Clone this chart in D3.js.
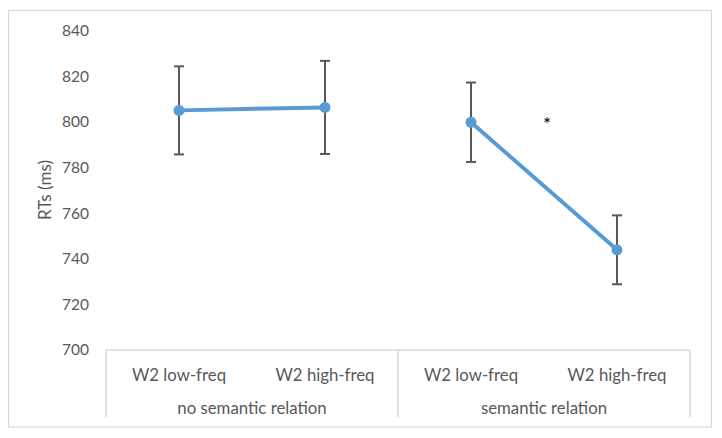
<!DOCTYPE html>
<html><head><meta charset="utf-8">
<script src="https://cdn.jsdelivr.net/npm/d3@7"></script>
<style>body{margin:0;background:#fff}svg text{font-family:Lato,"Open Sans",sans-serif}</style>
</head><body><svg id="c" width="722" height="438"></svg>
<script>
const categories = ["W2 low-freq","W2 high-freq","W2 low-freq","W2 high-freq"];
const groups = ["no semantic relation","semantic relation"];
const means = [805, 806.3, 799.8, 743.9];
const errors = [19.3, 20.4, 17.4, 15.1];
const yTicks = [700,720,740,760,780,800,820,840];
const yTitle = "RTs (ms)";
const annotation = {text:"*", index:3.02, value:801};

const svg = d3.select("#c");
const L=106, R=690, T=30.5, B=350;
svg.append("rect").attr("x",8.5).attr("y",10.5).attr("width",703).attr("height",416.5)
  .attr("fill","#fff").attr("stroke","#d9d9d9").attr("stroke-width",1.2);

const x = d3.scaleBand().domain(d3.range(categories.length)).range([L,R]);
const y = d3.scaleLinear().domain([700,840]).range([B,T]);

// y axis labels
const ya = svg.append("g").attr("transform",`translate(${L},0)`)
  .call(d3.axisLeft(y).tickValues(yTicks).tickSize(0).tickPadding(17));
ya.select(".domain").remove();
ya.selectAll("text").attr("font-size",15.5).attr("fill","#595959").attr("font-family","Lato,'Open Sans',sans-serif");

svg.append("text").attr("transform","translate(51,190) rotate(-90)").attr("text-anchor","middle")
  .attr("font-size",17).attr("fill","#595959").text(yTitle);

// category box
const gc = "#d9d9d9";
svg.append("line").attr("x1",L).attr("x2",R).attr("y1",B).attr("y2",B).attr("stroke",gc).attr("stroke-width",1.5);
[0,2,4].forEach(i=>{
  const xx = i<4 ? x(i) : R;
  svg.append("line").attr("x1",xx).attr("x2",xx).attr("y1",B).attr("y2",417).attr("stroke",gc).attr("stroke-width",1.5);
});
svg.selectAll("text.cat").data(categories).join("text").attr("class","cat")
  .attr("x",(d,i)=>x(i)+x.bandwidth()/2).attr("y",381).attr("text-anchor","middle")
  .attr("font-size",16.8).attr("fill","#595959").text(d=>d);
svg.selectAll("text.grp").data(groups).join("text").attr("class","grp")
  .attr("x",(d,i)=>x(i*2)+x.bandwidth()).attr("y",414).attr("text-anchor","middle")
  .attr("font-size",16.8).attr("fill","#595959").text(d=>d);

const cx = i=>x(i)+x.bandwidth()/2;
// error bars
const eb = svg.append("g").attr("stroke","#595959").attr("stroke-width",2);
means.forEach((m,i)=>{
  eb.append("line").attr("x1",cx(i)).attr("x2",cx(i)).attr("y1",y(m+errors[i])).attr("y2",y(m-errors[i]));
  [m+errors[i], m-errors[i]].forEach(v=>eb.append("line").attr("x1",cx(i)-5).attr("x2",cx(i)+5).attr("y1",y(v)).attr("y2",y(v)));
});
// lines (two segments per group)
[[0,1],[2,3]].forEach(idx=>{
  svg.append("path").datum(idx).attr("fill","none").attr("stroke","#5b9bd5").attr("stroke-width",4)
    .attr("d",d3.line().x(i=>cx(i)).y(i=>y(means[i])));
});
svg.selectAll("circle.pt").data(means).join("circle").attr("class","pt")
  .attr("cx",(d,i)=>cx(i)).attr("cy",d=>y(d)).attr("r",5.5).attr("fill","#5b9bd5");

svg.append("text").attr("x",L+x.bandwidth()*annotation.index).attr("y",y(annotation.value)+11)
  .attr("text-anchor","middle").attr("font-size",19).attr("font-family","'DejaVu Sans',sans-serif")
  .attr("fill","#000").text(annotation.text);
</script></body></html>
